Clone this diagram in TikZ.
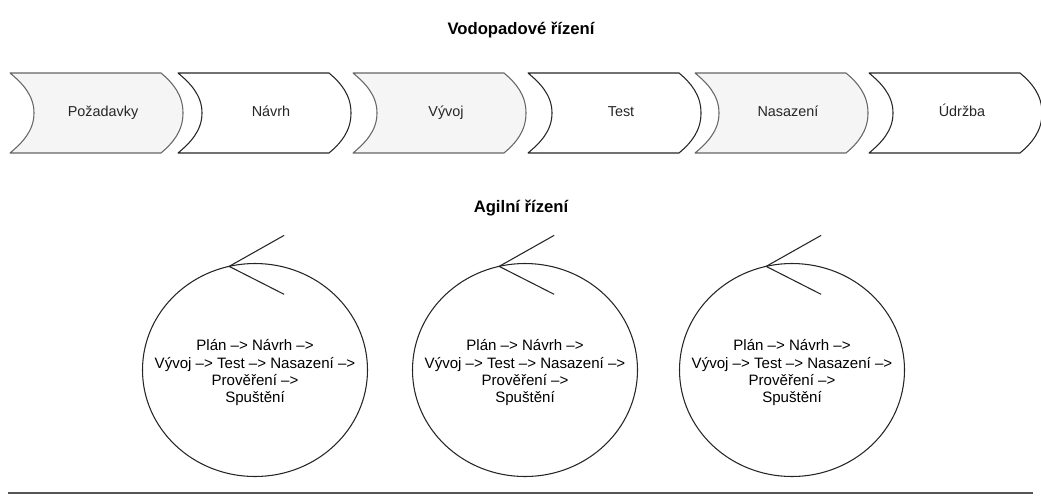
\documentclass[tikz,border=0pt]{standalone}
\usepackage{fontspec}
\setmainfont{Liberation Sans}
\usepackage{xcolor}
\usetikzlibrary{shapes.geometric, calc}
\definecolor{PhFill}{RGB}{245,245,245}
\definecolor{PhLine}{RGB}{102,102,102}
\definecolor{PhText}{RGB}{51,51,51}
\definecolor{RuleGrey}{RGB}{85,85,85}

\begin{document}
\begin{tikzpicture}[x=0.75pt, y=-0.75pt]

\tikzset{
phase/.style={line width=0.8pt, line join=round},
phgrey/.style={phase, fill=PhFill, draw=PhLine},
phwhite/.style={phase, fill=white, draw=black!85},
lbl/.style={font=\fontsize{10.8}{13}\selectfont, text=black!85, inner sep=0pt,
  text height=7.8pt, text depth=2.4pt},
ttl/.style={font=\bfseries\fontsize{12.5}{15}\selectfont, inner sep=0pt},
cyc/.style={ellipse, draw=black!85, line width=0.8pt, minimum width=168.75pt,
  minimum height=159.75pt, inner sep=0pt, outer sep=0pt},
note/.style={font=\fontsize{11.3}{13}\selectfont, align=center, inner sep=0pt}
}

\useasboundingbox (0,0) rectangle (1041,497);

% waterfall
\node[ttl] (wf) at (521,30) {Vodopadové řízení};

\foreach \s/\n/\t/\st in {10/req/Požadavky/phgrey, 178/des/Návrh/phwhite,
    353/dev/Vývoj/phgrey, 528/test/Test/phwhite,
    695/dep/Nasazení/phgrey, 869/maint/Údržba/phwhite}{
  \draw[\st] (\s,73) -- ++(151,0)
    .. controls ++(12,10) and ++(0,-18) .. ++(22,40)
    .. controls ++(0,18) and ++(12,-10) .. ++(-22,40)
    -- ++(-151,0)
    .. controls ++(12,-10) and ++(0,18) .. ++(24,-40)
    .. controls ++(0,-18) and ++(12,10) .. ++(-24,-40) -- cycle;
  \node[lbl] (\n) at (\s+93,113) {\t};
}

% agile
\node[ttl] (ag) at (521,208) {Agilní řízení};

\node[cyc] (c1) at (255,370) {};
\node[cyc] (c2) at (525,370) {};
\node[cyc] (c3) at (792,370) {};

\node[note] (t1) at ($(c1)+(0,3)$) {Plán –> Návrh –>\\Vývoj –> Test –> Nasazení –>\\Prověření –>\\Spuštění};
\node[note] (t2) at ($(c2)+(0,3)$) {Plán –> Návrh –>\\Vývoj –> Test –> Nasazení –>\\Prověření –>\\Spuštění};
\node[note] (t3) at ($(c3)+(0,3)$) {Plán –> Návrh –>\\Vývoj –> Test –> Nasazení –>\\Prověření –>\\Spuštění};

\draw[black!85, line width=0.8pt] ($(c1.104)+(55,-31)$) -- (c1.104) -- ($(c1.104)+(55,28)$);
\draw[black!85, line width=0.8pt] ($(c2.104)+(55,-31)$) -- (c2.104) -- ($(c2.104)+(55,28)$);
\draw[black!85, line width=0.8pt] ($(c3.104)+(55,-31)$) -- (c3.104) -- ($(c3.104)+(55,28)$);

% bottom rule
\coordinate (r1) at (8,493);
\coordinate (r2) at (1033,493);
\draw[RuleGrey, line width=1.3pt] (r1) -- (r2);

\end{tikzpicture}
\end{document}
